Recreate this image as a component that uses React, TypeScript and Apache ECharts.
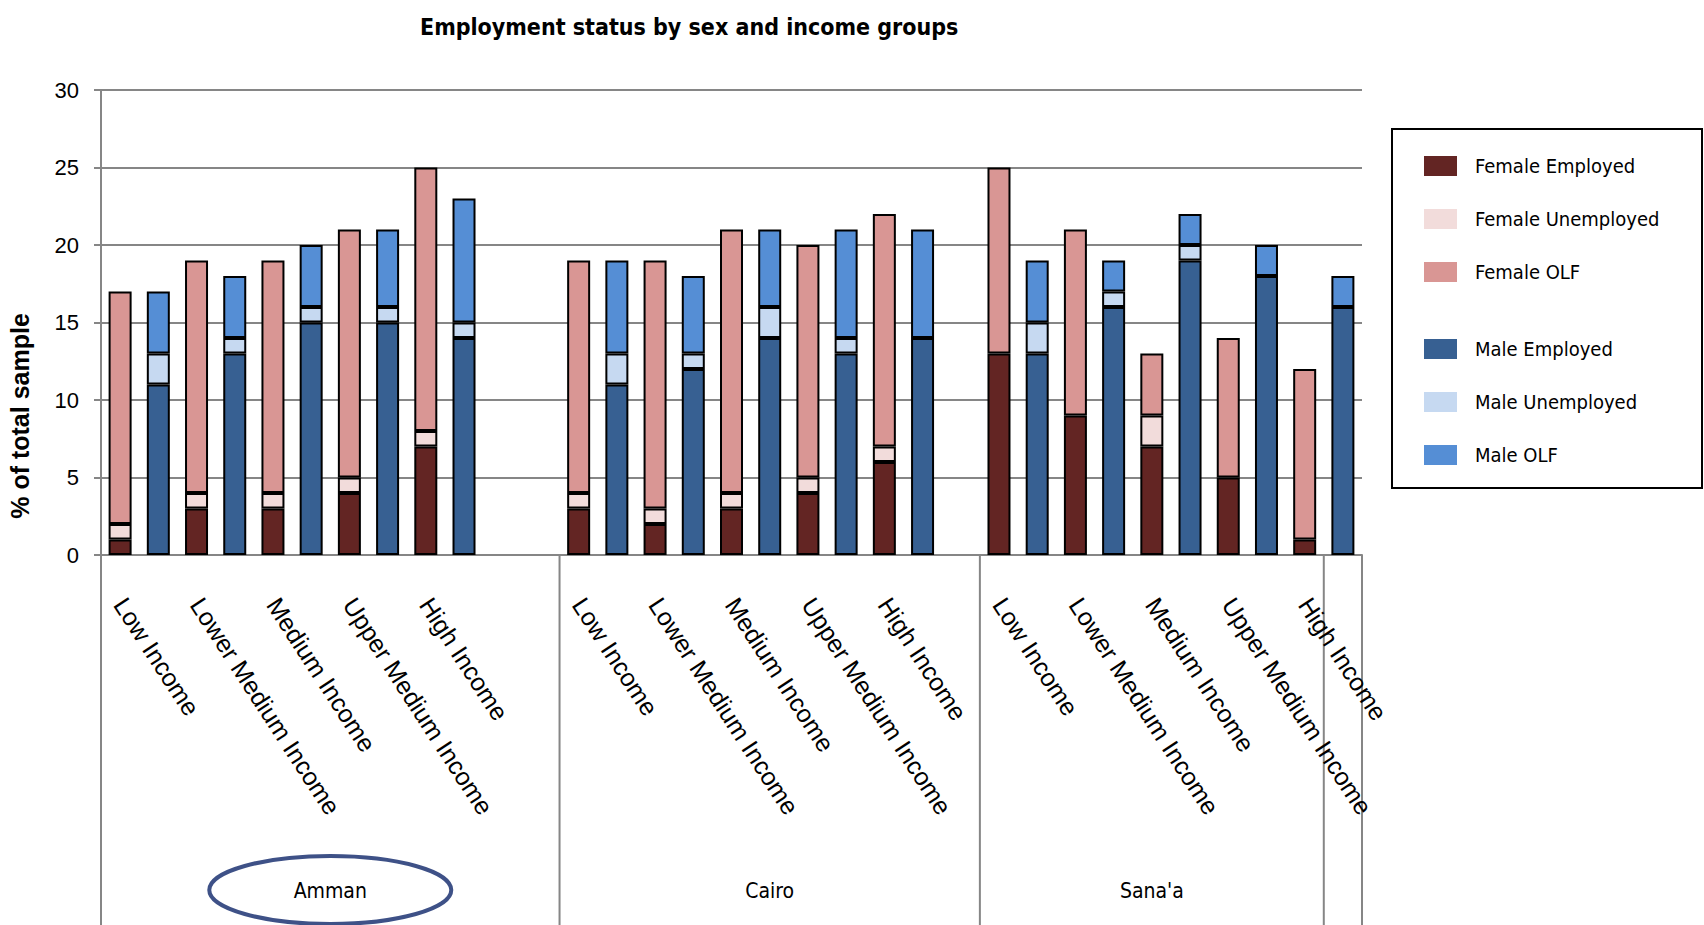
import React, { useEffect, useRef } from 'react';
import * as echarts from 'echarts';

const cities = ['Amman', 'Cairo', "Sana'a"];
const incomeGroups = ['Low Income', 'Lower Medium Income', 'Medium Income', 'Upper Medium Income', 'High Income'];
const emptySlotsAfterCity = [2, 1, 0];
// category-group separators (slot indices) and the group names written between them
const groupBoundaries = [0, 12, 23, 32, 33];
const groupLabels = ['Amman', 'Cairo', "Sana'a", ''];

// values per city x income group: Amman (5), Cairo (5), Sana'a (5)
const femaleEmployed = [1, 3, 3, 4, 7, 3, 2, 3, 4, 6, 13, 9, 7, 5, 1];
const femaleUnemployed = [1, 1, 1, 1, 1, 1, 1, 1, 1, 1, 0, 0, 2, 0, 0];
const femaleOLF = [15, 15, 15, 16, 17, 15, 16, 17, 15, 15, 12, 12, 4, 9, 11];
const maleEmployed = [11, 13, 15, 15, 14, 11, 12, 14, 13, 14, 13, 16, 19, 18, 16];
const maleUnemployed = [2, 1, 1, 1, 1, 2, 1, 2, 1, 0, 2, 1, 1, 0, 0];
const maleOLF = [4, 4, 4, 5, 8, 6, 5, 5, 7, 7, 4, 2, 2, 2, 2];

const yTicks = { min: 0, max: 30, interval: 5 };

type Slot = { key: string; label: string; idx: number; sex: 'F' | 'M' | null };
const slots: Slot[] = [];
cities.forEach((c, ci) => {
  incomeGroups.forEach((g, gi) => {
    slots.push({ key: `${c} ${g} F`, label: g, idx: ci * incomeGroups.length + gi, sex: 'F' });
    slots.push({ key: `${c} ${g} M`, label: g, idx: ci * incomeGroups.length + gi, sex: 'M' });
  });
  for (let k = 0; k < emptySlotsAfterCity[ci]; k++) {
    slots.push({ key: `${c} gap ${k}`, label: '', idx: -1, sex: null });
  }
});

const seriesDefs = [
  { name: 'Female Employed', sex: 'F', values: femaleEmployed, color: '#632523' },
  { name: 'Female Unemployed', sex: 'F', values: femaleUnemployed, color: '#F2DCDB' },
  { name: 'Female OLF', sex: 'F', values: femaleOLF, color: '#D99694' },
  { name: 'Male Employed', sex: 'M', values: maleEmployed, color: '#376092' },
  { name: 'Male Unemployed', sex: 'M', values: maleUnemployed, color: '#C6D9F1' },
  { name: 'Male OLF', sex: 'M', values: maleOLF, color: '#558ED5' },
];

const COND = "'DejaVu Sans Condensed', 'Liberation Sans', sans-serif";
const SANS = "'Liberation Sans', Arial, sans-serif";
const GRAY = '#868686';

export default function App() {
  const ref = useRef<HTMLDivElement>(null);
  useEffect(() => {
    document.body.style.margin = '0';
    const chart = echarts.init(ref.current!, undefined, { renderer: 'svg' });
    const legendCommon = {
      orient: 'vertical' as const,
      left: 1419,
      itemWidth: 33,
      itemHeight: 20,
      icon: 'rect',
      itemStyle: { borderWidth: 0 },
      textStyle: { fontFamily: COND, fontSize: 20, color: '#000', padding: [8, 0, 0, 13], lineHeight: 20 },
    };
    chart.setOption({
      animation: false,
      backgroundColor: '#fff',
      title: {
        text: 'Employment status by sex and income groups',
        left: 415,
        top: 10,
        textStyle: { fontFamily: COND, fontSize: 23, fontWeight: 'bold', color: '#000' },
      },
      legend: [
        { ...legendCommon, top: 147, itemGap: 25, data: seriesDefs.slice(0, 3).map((s) => s.name) },
        { ...legendCommon, top: 330, itemGap: 25, data: seriesDefs.slice(3).map((s) => s.name) },
      ],
      grid: { left: 101, right: 342, top: 90, bottom: 370, containLabel: false },
      xAxis: {
        type: 'category',
        data: slots.map((s) => s.key),
        axisLine: { show: true, lineStyle: { color: GRAY, width: 2 } },
        axisTick: { show: false },
        axisLabel: {
          interval: 0,
          rotate: -57,
          margin: 45,
          fontFamily: SANS,
          fontSize: 25,
          color: '#000',
          formatter: (_v: string, i: number) => (slots[i].sex === 'F' ? slots[i].label : ''),
        },
      },
      yAxis: {
        type: 'value',
        min: yTicks.min,
        max: yTicks.max,
        interval: yTicks.interval,
        axisLine: { show: true, lineStyle: { color: GRAY, width: 2 } },
        axisTick: { show: true, length: 7, lineStyle: { color: GRAY, width: 2 } },
        axisLabel: { fontFamily: SANS, fontSize: 22, color: '#000', margin: 22 },
        splitLine: { lineStyle: { color: GRAY, width: 2 } },
      },
      series: seriesDefs.map((d) => ({
        name: d.name,
        type: 'bar',
        stack: 'total',
        barWidth: 23,
        itemStyle: { color: d.color, borderColor: '#000', borderWidth: 2 },
        data: slots.map((s) => (s.sex === d.sex && d.values[s.idx] !== 0 ? d.values[s.idx] : null)),
      })),
    });

    const c0 = chart.convertToPixel({ xAxisIndex: 0 }, 0) as number;
    const c1 = chart.convertToPixel({ xAxisIndex: 0 }, 1) as number;
    const slotW = c1 - c0;
    const bx = (b: number) => c0 + (b - 0.5) * slotW;
    const y0 = chart.convertToPixel({ yAxisIndex: 0 }, 0) as number;
    const graphics: any[] = [];
    groupBoundaries.forEach((b) => {
      graphics.push({
        type: 'line',
        shape: { x1: bx(b), y1: y0, x2: bx(b), y2: 925 },
        style: { stroke: GRAY, lineWidth: 2 },
      });
    });
    groupLabels.forEach((name, i) => {
      if (!name) return;
      const cx = (bx(groupBoundaries[i]) + bx(groupBoundaries[i + 1])) / 2;
      graphics.push({
        type: 'text',
        x: cx,
        y: 891,
        style: { text: name, fontFamily: COND, fontSize: 21, fill: '#000', align: 'center', verticalAlign: 'middle' },
      });
      if (i === 0) {
        graphics.push({
          type: 'ellipse',
          shape: { cx, cy: 890, rx: 121, ry: 34 },
          style: { fill: 'none', stroke: '#3E5187', lineWidth: 4 },
        });
      }
    });
    graphics.push({
      type: 'text',
      x: 20,
      y: 416,
      rotation: Math.PI / 2,
      style: { text: '% of total sample', fontFamily: SANS, fontSize: 25, fontWeight: 'bold', fill: '#000', align: 'center', verticalAlign: 'middle' },
    });
    graphics.push({
      type: 'rect',
      shape: { x: 1392, y: 129, width: 310, height: 359 },
      style: { fill: 'none', stroke: '#000', lineWidth: 2 },
    });
    chart.setOption({ graphic: graphics });
    return () => chart.dispose();
  }, []);
  return <div ref={ref} style={{ width: 1704, height: 925 }} />;
}
